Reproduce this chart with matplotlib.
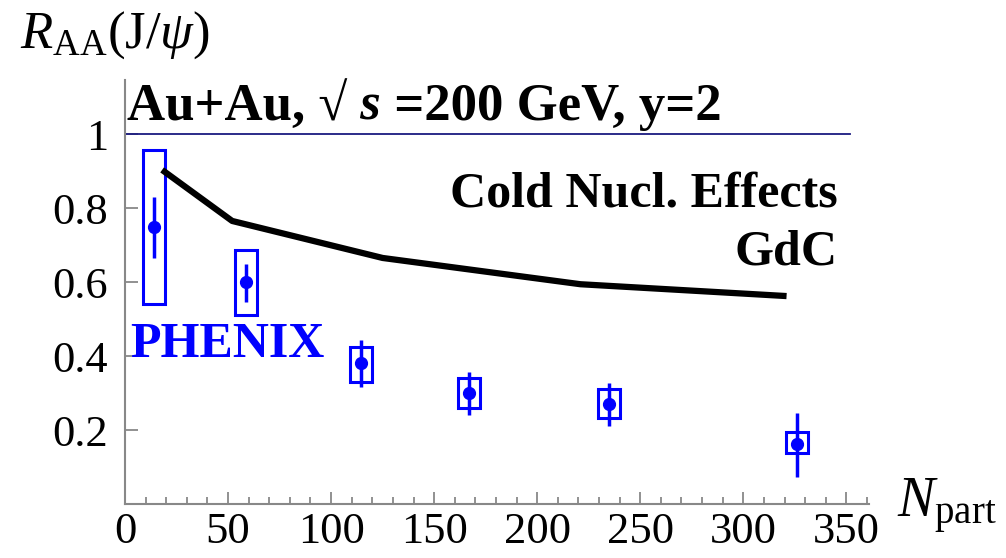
import matplotlib
matplotlib.use("Agg")
import matplotlib.pyplot as plt
from matplotlib.patches import Rectangle
from matplotlib.ticker import MultipleLocator, FixedLocator, FixedFormatter

# ---- data ----
npart = [14.3, 58.5, 114.5, 167.0, 235.0, 326.0]
raa = [0.75, 0.60, 0.38, 0.30, 0.27, 0.163]
stat_lo = [0.665, 0.546, 0.316, 0.240, 0.211, 0.073]
stat_hi = [0.830, 0.649, 0.443, 0.357, 0.327, 0.246]
sys_lo = [0.540, 0.511, 0.330, 0.260, 0.232, 0.138]
sys_hi = [0.957, 0.686, 0.424, 0.340, 0.311, 0.195]

cne_x = [18, 52, 125, 221, 321]
cne_y = [0.903, 0.765, 0.665, 0.594, 0.562]

xticks = [0, 50, 100, 150, 200, 250, 300, 350]
yticks = [0.2, 0.4, 0.6, 0.8, 1.0]
ytick_labels = ["0.2", "0.4", "0.6", "0.8", "1"]

plt.rcParams['font.family'] = ['Liberation Serif', 'DejaVu Serif']
plt.rcParams['mathtext.fontset'] = 'custom'
plt.rcParams['mathtext.rm'] = 'Liberation Serif'
plt.rcParams['mathtext.it'] = 'Liberation Serif:italic'
plt.rcParams['mathtext.bf'] = 'Liberation Serif:bold'

W, H = 1006, 558
fig = plt.figure(figsize=(W / 100, H / 100), dpi=100)
ax = fig.add_axes([125 / W, 1 - 504 / H, (869 - 125) / W, (504 - 80) / H])
ax.set_xlim(0, 361)
ax.set_ylim(0, 1.146)

for s in ['top', 'right']:
    ax.spines[s].set_visible(False)
for s in ['left', 'bottom']:
    ax.spines[s].set_color('#888888')
    ax.spines[s].set_linewidth(1.5)

ax.xaxis.set_major_locator(FixedLocator(xticks))
ax.xaxis.set_minor_locator(MultipleLocator(10))
ax.yaxis.set_major_locator(FixedLocator(yticks))
ax.yaxis.set_major_formatter(FixedFormatter(ytick_labels))
ax.tick_params(which='both', direction='in', color='#888888', width=1.3)
ax.tick_params(which='major', length=9, labelsize=32)
ax.tick_params(which='minor', length=5)
ax.tick_params(axis='x', pad=6)
ax.tick_params(axis='y', pad=12)

# reference line at 1
ax.plot([0, 352], [1, 1], color='#1a1a80', lw=1.3)

# cold nuclear effects curve
ax.plot(cne_x, cne_y, color='black', lw=4.5, solid_capstyle='butt', solid_joinstyle='round')

# PHENIX data
blue = '#0000ff'
bw = 10.7
for x, y, lo, hi, slo, shi in zip(npart, raa, stat_lo, stat_hi, sys_lo, sys_hi):
    ax.add_patch(Rectangle((x - bw / 2, slo), bw, shi - slo, fill=False, ec=blue, lw=2.2))
    ax.plot([x, x], [lo, hi], color=blue, lw=2.5, solid_capstyle='butt')
ax.plot(npart, raa, 'o', color=blue, ms=8.5)

# texts
ax.text(345.7, 0.805, 'Cold Nucl. Effects', ha='right', va='baseline', fontsize=36, fontweight='bold')
ax.text(345.7, 0.646, 'GdC', ha='right', va='baseline', fontsize=36, fontweight='bold')
ax.text(2.4, 0.397, 'PHENIX', ha='left', va='baseline', fontsize=36, fontweight='bold', color=blue)

# title in pieces
fig.canvas.draw()
r = fig.canvas.get_renderer()
x0 = 127
yb = 1 - 120 / H
pieces = [('Au+Au, \u221a', 'normal'), (' s', 'italic'), (' =200 GeV, y=2', 'normal')]
for txt, st in pieces:
    t = fig.text(x0 / W, yb, txt, ha='left', va='baseline', fontsize=38, fontweight='bold', style=st)
    bb = t.get_window_extent(renderer=r)
    x0 = bb.x1

fig.text(20 / W, 1 - 48 / H, r'$R_{\rm AA}(\rm J/\mathit{\psi})$', ha='left', va='baseline', fontsize=38)
fig.text(897 / W, 1 - 517 / H, r'$N_{\rm part}$', ha='left', va='baseline', fontsize=40)

fig.savefig('out.png', dpi=100)
